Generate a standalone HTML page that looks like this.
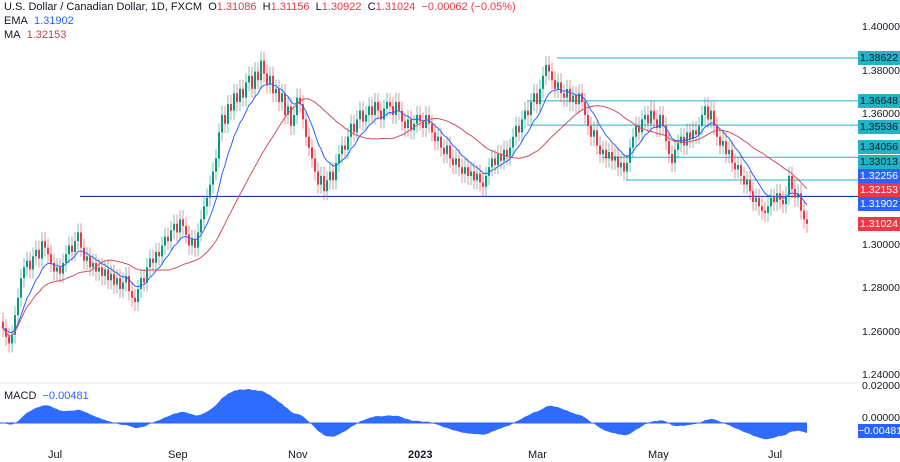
<!DOCTYPE html>
<html><head><meta charset="utf-8">
<style>
body{margin:0;background:#fff;font-family:"Liberation Sans",sans-serif;}
#wrap{position:relative;width:900px;height:462px;overflow:hidden;}
.lg{position:absolute;left:4px;font-size:11px;color:#131722;white-space:nowrap}
.lbl{position:absolute;left:858px;width:42px;height:14px;font-size:10.5px;line-height:14px;text-align:center}
.tk{position:absolute;left:862px;font-size:10.5px;color:#131722}
.ta{position:absolute;top:449px;font-size:11px;color:#131722}
</style></head><body>
<div id="wrap">
<svg id="svg" width="900" height="462" style="position:absolute;left:0;top:0"></svg>
<div class="lg" style="top:1px">U.S. Dollar / Canadian Dollar, 1D, FXCM&nbsp; <span>O</span><span style="color:#f23645">1.31086</span>&nbsp; H<span style="color:#f23645">1.31156</span>&nbsp; L<span style="color:#f23645">1.30922</span>&nbsp; C<span style="color:#f23645">1.31024</span>&nbsp; <span style="color:#f23645">−0.00062 (−0.05%)</span></div>
<div class="lg" style="top:15px">EMA&nbsp; <span style="color:#2962ff">1.31902</span></div>
<div class="lg" style="top:29px">MA&nbsp; <span style="color:#c2434f">1.32153</span></div>
<div class="lg" style="top:390px">MACD&nbsp; <span style="color:#2962ff">−0.00481</span></div>
</div>
<script>
const closes=[1.262,1.258,1.255,1.259,
1.268,1.276,1.285,1.290,1.293,
1.289,1.295,1.298,1.294,1.302,
1.299,1.296,1.292,1.288,1.290,
1.287,1.292,1.296,1.300,1.297,1.302,1.306,
1.299,1.293,1.295,1.290,1.292,1.288,
1.290,1.286,1.289,1.284,1.287,1.282,
1.285,1.280,1.283,1.286,1.279,1.276,1.274,
1.280,1.285,1.283,1.290,1.294,1.292,
1.297,1.295,1.300,1.304,1.302,1.307,
1.310,1.306,1.312,1.309,1.305,1.300,1.303,
1.299,1.306,1.312,1.318,1.322,1.328,1.334,
1.340,1.352,1.360,1.356,1.365,1.362,1.370,
1.366,1.372,1.368,1.375,1.378,1.372,1.380,
1.376,1.385,1.379,1.374,1.378,1.370,
1.372,1.366,1.370,1.360,1.364,1.355,
1.360,1.368,1.365,1.358,1.350,1.345,
1.340,1.334,1.328,1.332,1.325,1.330,
1.334,1.330,1.338,1.342,1.346,1.344,
1.350,1.356,1.352,1.358,1.362,1.357,1.360,
1.364,1.360,1.366,1.362,1.358,1.363,1.366,
1.364,1.360,1.366,1.362,1.357,1.354,1.358,
1.353,1.356,1.360,1.357,1.354,1.360,1.356,
1.352,1.348,1.350,1.345,1.342,1.346,1.340,
1.337,1.340,1.336,1.333,1.336,1.332,1.334,
1.330,1.333,1.329,1.327,1.332,1.336,
1.340,1.337,1.342,1.339,1.344,1.341,1.345,
1.350,1.355,1.352,1.358,1.362,1.360,1.366,
1.370,1.365,1.372,1.378,1.383,
1.380,1.376,1.372,1.375,1.370,1.368,
1.372,1.366,1.369,1.365,1.370,1.366,1.360,
1.355,1.350,1.353,1.346,1.342,1.344,
1.340,1.343,1.339,1.341,1.336,1.338,1.334,
1.338,1.345,1.350,1.355,1.352,1.358,
1.360,1.356,1.362,1.358,1.354,1.360,
1.355,1.348,1.342,1.338,1.344,1.347,
1.350,1.346,1.352,1.349,1.353,1.351,
1.355,1.360,1.364,1.358,1.362,1.355,
1.350,1.346,1.348,1.342,1.344,1.338,
1.335,1.337,1.332,1.328,1.330,1.325,
1.320,1.322,1.318,1.316,1.315,1.318,
1.322,1.320,1.324,1.321,1.319,1.323,
1.332,1.326,1.322,1.324,1.316,1.312,1.310];
const wickUp=0.0042, wickDn=0.0042;
const levels=[1.38622,1.36648,1.35536,1.34056,1.33013];
const levelStartIdx=[185,175,175,200,208];
const supportLevel=1.32256, supportStartIdx=26;
const priceTicks=["1.40000","1.38000","1.36000","1.30000","1.28000","1.26000","1.24000"];
const priceTickVals=[1.40,1.38,1.36,1.30,1.28,1.26,1.24];
const monthLabels=["Jul","Sep","Nov","2023","Mar","May","Jul"];
const monthIdx=[18,58,98,138,178,218,258];

const NS="http://www.w3.org/2000/svg",svg=document.getElementById('svg');
const X=i=>2+i*3;
const Y=p=>28+(1.40-p)*2175;
const MY=v=>423-v*1800;
function el(t,a){const e=document.createElementNS(NS,t);for(const k in a)e.setAttribute(k,a[k]);svg.appendChild(e);return e;}
let s=el('line',{x1:0,x2:858,y1:383,y2:383,stroke:'#e0e3eb'});

levels.forEach((lv,k)=>{const l=el('line',{x1:X(levelStartIdx[k]),x2:858,y1:Y(lv),y2:Y(lv),stroke:'#22b3c7','stroke-width':1});
});
let sl=el('line',{x1:X(supportStartIdx),x2:858,y1:Y(supportLevel),y2:Y(supportLevel),stroke:'#1c3f9e','stroke-width':1.2});

closes.forEach((c,i)=>{const o=i?closes[i-1]:c+0.003;const up=c>=o;const col=up?'#089981':'#f23645';
const hi=Math.max(o,c)+wickUp,lo=Math.min(o,c)-wickDn;
const w=el('line',{x1:X(i)+1,x2:X(i)+1,y1:Y(hi),y2:Y(lo),stroke:col,'stroke-width':0.8,opacity:0.7});

const b=el('rect',{x:X(i),y:Y(Math.max(o,c)),width:2,height:Math.max(1,Math.abs(Y(o)-Y(c))),fill:col});
});
function ema(arr,n){const k=2/(n+1);let r=[],e=arr[0];arr.forEach(v=>{e=v*k+e*(1-k);r.push(e);});return r;}
function sma(arr,n){return arr.map((v,i)=>{const a=arr.slice(Math.max(0,i-n+1),i+1);return a.reduce((x,y)=>x+y,0)/a.length;});}
const e10=ema(closes,10),m30=sma(closes,30);
let p1=el('path',{d:e10.map((v,i)=>(i?'L':'M')+(X(i)+1)+' '+Y(v)).join(''),fill:'none',stroke:'#2962ff','stroke-width':1});

let p2=el('path',{d:m30.map((v,i)=>(i?'L':'M')+(X(i)+1)+' '+Y(v)).join(''),fill:'none',stroke:'#d0505e','stroke-width':1});

const e12=ema(closes,12),e26=ema(closes,26),macd=e12.map((v,i)=>v-e26[i]);
let d='M'+X(0)+' '+MY(0);macd.forEach((v,i)=>{d+='L'+(X(i)+1)+' '+MY(v);});d+='L'+(X(closes.length-1)+1)+' '+MY(0)+'Z';
let ma=el('path',{d:d,fill:'#2f6bff',stroke:'none'});

let zl=el('line',{x1:0,x2:X(closes.length-1)+1,y1:423,y2:423,stroke:'#2962ff','stroke-width':1});

const wrap=document.getElementById('wrap');
priceTicks.forEach((t,k)=>{const d=document.createElement('div');d.className='tk';d.style.top=(Y(priceTickVals[k])-7)+'px';d.textContent=t;
wrap.appendChild(d);});
[["0.02000",387],["0.00000",419]].forEach(a=>{const d=document.createElement('div');d.className='tk';d.style.top=(a[1]-7)+'px';d.textContent=a[0];
wrap.appendChild(d);});
monthLabels.forEach((t,k)=>{const d=document.createElement('div');d.className='ta';d.style.left=(X(monthIdx[k])-8)+'px';d.textContent=t;if(t==='2023')d.style.fontWeight='bold';
wrap.appendChild(d);});
const labels=[["1.38622",58,'#22b3c7','#131722'],["1.36648",101,'#22b3c7','#131722'],["1.35536",127,'#22b3c7','#131722'],["1.34056",147,'#22b3c7','#131722'],["1.33013",162,'#22b3c7','#131722'],["1.32256",176,'#2962ff','#fff'],["1.32153",190,'#f23645','#fff'],["1.31902",204,'#2962ff','#fff'],["1.31024",224,'#f23645','#fff'],["−0.00481",431,'#2962ff','#fff']];
labels.forEach(a=>{const d=document.createElement('div');d.className='lbl';d.style.top=(a[1]-7)+'px';d.style.background=a[2];d.style.color=a[3];d.textContent=a[0];
wrap.appendChild(d);});
</script>
</body></html>
